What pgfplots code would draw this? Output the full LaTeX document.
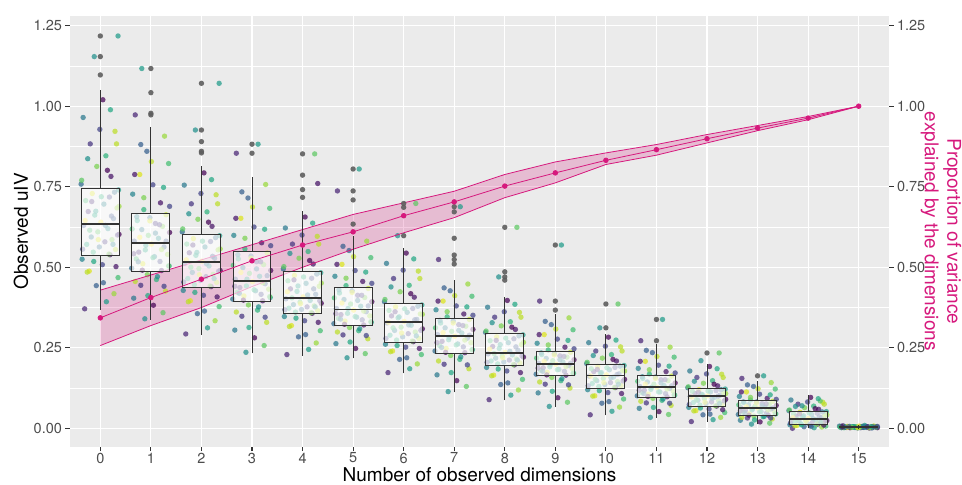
\documentclass[border=0pt]{standalone}
\usepackage{fontspec}
\setmainfont{TeX Gyre Heros}
\usepackage{pgfplots}
\pgfplotsset{compat=1.18}
\usepgfplotslibrary{fillbetween}

\definecolor{panel}{HTML}{EBEBEB}
\definecolor{tickc}{HTML}{333333}
\definecolor{labc}{HTML}{4D4D4D}
\definecolor{pinkc}{HTML}{D6197D}
\definecolor{outc}{HTML}{5E5E5E}

\pgfplotsset{
  gg/.style={
    at={(70pt,38.3pt)}, anchor=south west, scale only axis,
    width=819pt, height=430.7pt,
    xmin=-0.6, xmax=15.6, ymin=-0.057, ymax=1.28,
    ytick={0,0.25,0.5,0.75,1,1.25},
    tick align=outside, major tick length=4.5pt, minor tick length=0pt,
    tick style={draw=tickc, line width=1.1pt},
    tick label style={font=\fontsize{14.5}{16}\selectfont, text=labc},
    /pgf/number format/assume math mode=true,
    y tick label style={/pgf/number format/fixed, /pgf/number format/fixed zerofill, /pgf/number format/precision=2},
  },
  jit/.style={scatter, only marks, mark=*, mark size=2.7pt,
    colormap/viridis, point meta=explicit,
    point meta min=0, point meta max=1,
    scatter/use mapped color={fill=mapped color, draw opacity=0},
    mark options={fill opacity=0.72}},
  bx/.style={draw=tickc, fill=white, fill opacity=0.66, line width=1pt},
}

\begin{document}
\begin{tikzpicture}

\begin{axis}[gg,
  clip mode=individual,
  axis background/.style={fill=panel},
  axis line style={draw=none},
  xtick={0,1,...,15}, xtick pos=bottom, ytick pos=left,
  x tick label style={yshift=2pt},
  minor ytick={0.125,0.375,0.625,0.875,1.125},
  xmajorgrids, ymajorgrids, yminorgrids,
  major grid style={white, line width=1.1pt},
  minor grid style={white, line width=0.55pt},
  unbounded coords=jump,
  xlabel={Number of observed dimensions},
  xlabel style={font=\fontsize{19}{22}\selectfont, at={(axis description cs:0.5,0)}, anchor=base, yshift=-35.3pt},
  ylabel={Observed uIV},
  ylabel style={font=\fontsize{19}{22}\selectfont, at={(axis description cs:-0.0598,0.5)}, anchor=center},
]

% jittered observations, first set
\addplot[jit] table[x=x, y=y, meta=c] {
x y c
-0.31 .371 0.1
0.12 .393 0.55
0.27 .418 0.85
-0.08 .443 0.3
0.35 .468 0.7
-0.22 .488 0.95
0.04 .508 0.2
-0.36 .525 0.45
0.19 .539 0.05
-0.14 .547 0.65
0.30 .555 0.9
-0.02 .563 0.35
-0.27 .571 0.6
0.09 .579 0.15
0.23 .586 0.8
-0.18 .594 0.4
0.37 .602 0.0
-0.05 .610 0.75
0.15 .620 0.5
-0.33 .630 0.25
0.01 .640 1.0
0.26 .651 0.3
-0.11 .662 0.6
-0.24 .673 0.1
0.33 .684 0.85
0.07 .696 0.45
-0.29 .707 0.7
0.18 .718 0.2
-0.16 .729 0.95
0.36 .740 0.55
-0.38 .758 0.35
0.21 .782 0.05
-0.07 .813 0.8
0.11 .846 0.65
-0.20 .883 0.15
0.29 .922 0.9
-0.34 .965 0.4
0.05 1.020 0.0
0.35 1.218 0.55
-0.12 1.154 0.5
0.88 .340 0.5
1.24 .359 0.75
1.05 .382 0.0
0.66 .404 0.4
1.29 .426 0.9
0.80 .444 0.15
1.11 .462 0.65
0.93 .477 0.8
1.21 .490 0.05
0.62 .497 0.35
1.36 .504 0.55
0.84 .511 0.95
1.18 .518 0.2
0.71 .526 0.7
1.07 .533 0.45
1.33 .540 0.85
0.76 .547 0.1
0.89 .554 0.6
1.26 .563 0.3
1.01 .572 1.0
0.67 .581 0.25
1.15 .590 0.5
0.95 .599 0.75
1.37 .608 0.0
0.82 .617 0.4
1.23 .627 0.8
1.09 .636 0.15
0.73 .645 0.6
0.98 .654 0.35
1.30 .663 0.9
0.86 .679 0.65
1.19 .700 0.05
0.64 .727 0.45
1.04 .756 0.2
0.78 .788 0.95
1.35 .822 0.7
0.92 .860 0.3
1.27 .907 0.85
0.82 1.117 0.55
0.69 .973 0.1
1.69 .293 0.1
2.12 .312 0.55
2.27 .334 0.85
1.92 .356 0.3
2.35 .378 0.7
1.78 .396 0.95
2.04 .413 0.2
1.64 .428 0.45
2.19 .440 0.05
1.86 .446 0.65
2.30 .453 0.9
1.98 .459 0.35
1.73 .465 0.6
2.09 .471 0.15
2.23 .478 0.8
1.82 .484 0.4
2.37 .490 0.0
1.95 .496 0.75
2.15 .504 0.5
1.67 .512 0.25
2.01 .519 1.0
2.26 .528 0.3
1.89 .537 0.6
1.76 .545 0.1
2.33 .554 0.85
2.07 .563 0.45
1.71 .572 0.7
2.18 .580 0.2
1.84 .589 0.95
2.36 .598 0.55
1.62 .610 0.35
2.21 .627 0.05
1.93 .649 0.8
2.11 .672 0.65
1.80 .697 0.15
2.29 .725 0.9
1.66 .755 0.4
2.05 .793 0.0
2.35 1.071 0.55
1.88 .926 0.5
2.88 .236 0.5
3.24 .257 0.75
3.05 .281 0.0
2.66 .305 0.4
3.29 .329 0.9
2.80 .348 0.15
3.11 .367 0.65
2.93 .383 0.8
3.21 .396 0.05
2.62 .401 0.35
3.36 .406 0.55
2.84 .411 0.95
3.18 .416 0.2
2.71 .422 0.7
3.07 .427 0.45
3.33 .432 0.85
2.76 .437 0.1
2.89 .442 0.6
3.26 .449 0.3
3.01 .455 1.0
2.67 .463 0.25
3.15 .472 0.5
2.95 .481 0.75
3.37 .490 0.0
2.82 .499 0.4
3.23 .508 0.8
3.09 .517 0.15
2.73 .526 0.6
2.98 .535 0.35
3.30 .544 0.9
2.86 .557 0.65
3.19 .576 0.05
2.64 .599 0.45
3.04 .625 0.2
2.78 .652 0.95
3.35 .683 0.7
2.92 .715 0.3
3.27 .757 0.85
3.12 .882 0.55
2.69 .854 0.1
3.69 .229 0.1
4.12 .245 0.55
4.27 .265 0.85
3.92 .284 0.3
4.35 .303 0.7
3.78 .319 0.95
4.04 .334 0.2
3.64 .347 0.45
4.19 .357 0.05
3.86 .361 0.65
4.30 .365 0.9
3.98 .369 0.35
3.73 .373 0.6
4.09 .377 0.15
4.23 .380 0.8
3.82 .384 0.4
4.37 .388 0.0
3.95 .392 0.75
4.15 .397 0.5
3.67 .402 0.25
4.01 .408 1.0
4.26 .416 0.3
3.89 .425 0.6
3.76 .433 0.1
4.33 .441 0.85
4.07 .450 0.45
3.71 .458 0.7
4.18 .466 0.2
3.84 .475 0.95
4.36 .483 0.55
3.62 .495 0.35
4.21 .510 0.05
3.93 .528 0.8
4.11 .549 0.65
3.80 .572 0.15
4.29 .596 0.9
3.66 .622 0.4
4.05 .656 0.0
4.24 .852 0.75
4.30 .760 0.05
4.88 .219 0.5
5.24 .232 0.75
5.05 .248 0.0
4.66 .263 0.4
5.29 .278 0.9
4.80 .290 0.15
5.11 .303 0.65
4.93 .313 0.8
5.21 .321 0.05
4.62 .325 0.35
5.36 .329 0.55
4.84 .333 0.95
5.18 .337 0.2
4.71 .341 0.7
5.07 .345 0.45
5.33 .349 0.85
4.76 .353 0.1
4.89 .357 0.6
5.26 .362 0.3
5.01 .367 1.0
4.67 .372 0.25
5.15 .379 0.5
4.95 .386 0.75
5.37 .393 0.0
4.82 .400 0.4
5.23 .406 0.8
5.09 .413 0.15
4.73 .420 0.6
4.98 .427 0.35
5.30 .434 0.9
4.86 .443 0.65
5.19 .456 0.05
4.64 .472 0.45
5.04 .490 0.2
4.78 .509 0.95
5.35 .530 0.7
4.92 .552 0.3
5.27 .581 0.85
5.12 .805 0.55
4.69 .737 0.1
5.69 .173 0.1
6.12 .185 0.55
6.27 .200 0.85
5.92 .214 0.3
6.35 .229 0.7
5.78 .240 0.95
6.04 .252 0.2
5.64 .261 0.45
6.19 .269 0.05
5.86 .274 0.65
6.30 .279 0.9
5.98 .284 0.35
5.73 .289 0.6
6.09 .294 0.15
6.23 .299 0.8
5.82 .304 0.4
6.37 .309 0.0
5.95 .314 0.75
6.15 .320 0.5
5.67 .327 0.25
6.01 .332 1.0
6.26 .338 0.3
5.89 .343 0.6
5.76 .349 0.1
6.33 .355 0.85
6.07 .360 0.45
5.71 .366 0.7
6.18 .372 0.2
5.84 .377 0.95
6.36 .383 0.55
5.62 .393 0.35
6.21 .407 0.05
5.93 .424 0.8
6.11 .444 0.65
5.80 .465 0.15
6.29 .488 0.9
5.66 .512 0.4
6.05 .544 0.0
6.24 .698 0.75
5.88 .598 0.5
6.88 .114 0.5
7.24 .130 0.75
7.05 .148 0.0
6.66 .166 0.4
7.29 .185 0.9
6.80 .199 0.15
7.11 .214 0.65
6.93 .226 0.8
7.21 .235 0.05
6.62 .240 0.35
7.36 .244 0.55
6.84 .248 0.95
7.18 .253 0.2
6.71 .257 0.7
7.07 .262 0.45
7.33 .266 0.85
6.76 .270 0.1
6.89 .275 0.6
7.26 .280 0.3
7.01 .286 1.0
6.67 .291 0.25
7.15 .296 0.5
6.95 .301 0.75
7.37 .307 0.0
6.82 .312 0.4
7.23 .317 0.8
7.09 .322 0.15
6.73 .327 0.6
6.98 .333 0.35
7.30 .338 0.9
6.86 .346 0.65
7.19 .355 0.05
6.64 .368 0.45
7.04 .380 0.2
6.78 .395 0.95
7.35 .410 0.7
6.92 .427 0.3
7.27 .448 0.85
7.12 .688 0.55
6.69 .524 0.1
7.69 .089 0.1
8.12 .103 0.55
8.27 .119 0.85
7.92 .136 0.3
8.35 .152 0.7
7.78 .165 0.95
8.04 .178 0.2
7.64 .189 0.45
8.19 .197 0.05
7.86 .200 0.65
8.30 .203 0.9
7.98 .206 0.35
7.73 .209 0.6
8.09 .212 0.15
8.23 .215 0.8
7.82 .218 0.4
8.37 .221 0.0
7.95 .224 0.75
8.15 .228 0.5
7.67 .231 0.25
8.01 .236 1.0
8.26 .242 0.3
7.89 .248 0.6
7.76 .254 0.1
8.33 .260 0.85
8.07 .266 0.45
7.71 .272 0.7
8.18 .278 0.2
7.84 .284 0.95
8.36 .290 0.55
7.62 .298 0.35
8.21 .307 0.05
7.93 .318 0.8
8.11 .331 0.65
7.80 .345 0.15
8.29 .360 0.9
7.66 .376 0.4
8.05 .397 0.0
8.24 .624 0.75
7.88 .470 0.5
8.88 .068 0.5
9.24 .081 0.75
9.05 .095 0.0
8.66 .110 0.4
9.29 .125 0.9
8.80 .137 0.15
9.11 .148 0.65
8.93 .158 0.8
9.21 .165 0.05
8.62 .168 0.35
9.36 .171 0.55
8.84 .174 0.95
9.18 .177 0.2
8.71 .180 0.7
9.07 .183 0.45
9.33 .186 0.85
8.76 .188 0.1
8.89 .191 0.6
9.26 .195 0.3
9.01 .199 1.0
8.67 .202 0.25
9.15 .206 0.5
8.95 .210 0.75
9.37 .213 0.0
8.82 .217 0.4
9.23 .221 0.8
9.09 .225 0.15
8.73 .229 0.6
8.98 .232 0.35
9.30 .236 0.9
8.86 .243 0.65
9.19 .252 0.05
8.64 .264 0.45
9.04 .277 0.2
8.78 .291 0.95
9.35 .306 0.7
8.92 .322 0.3
9.27 .343 0.85
9.12 .569 0.55
8.69 .395 0.1
9.69 .042 0.1
10.12 .053 0.55
10.27 .066 0.85
9.92 .078 0.3
10.35 .091 0.7
9.78 .101 0.95
10.04 .111 0.2
9.64 .120 0.45
10.19 .127 0.05
9.86 .130 0.65
10.30 .133 0.9
9.98 .136 0.35
9.73 .139 0.6
10.09 .142 0.15
10.23 .145 0.8
9.82 .148 0.4
10.37 .152 0.0
9.95 .155 0.75
10.15 .159 0.5
9.67 .162 0.25
10.01 .166 1.0
10.26 .169 0.3
9.89 .172 0.6
9.76 .176 0.1
10.33 .179 0.85
10.07 .182 0.45
9.71 .185 0.7
10.18 .189 0.2
9.84 .192 0.95
10.36 .195 0.55
9.62 .201 0.35
10.21 .209 0.05
9.93 .218 0.8
10.11 .229 0.65
9.80 .240 0.15
10.29 .253 0.9
9.66 .266 0.4
10.05 .283 0.0
10.24 .386 0.75
9.88 .312 0.5
10.88 .034 0.5
11.24 .043 0.75
11.05 .052 0.0
10.66 .062 0.4
11.29 .071 0.9
10.80 .079 0.15
11.11 .087 0.65
10.93 .093 0.8
11.21 .098 0.05
10.62 .101 0.35
11.36 .103 0.55
10.84 .106 0.95
11.18 .108 0.2
10.71 .111 0.7
11.07 .113 0.45
11.33 .116 0.85
10.76 .118 0.1
10.89 .121 0.6
11.26 .124 0.3
11.01 .127 1.0
10.67 .130 0.25
11.15 .133 0.5
10.95 .137 0.75
11.37 .141 0.0
10.82 .144 0.4
11.23 .148 0.8
11.09 .151 0.15
10.73 .155 0.6
10.98 .159 0.35
11.30 .162 0.9
10.86 .168 0.65
11.19 .176 0.05
10.64 .186 0.45
11.04 .196 0.2
10.78 .208 0.95
11.35 .221 0.7
10.92 .235 0.3
11.27 .252 0.85
11.12 .338 0.55
10.69 .272 0.1
11.69 .021 0.1
12.12 .027 0.55
12.27 .034 0.85
11.92 .042 0.3
12.35 .049 0.7
11.78 .055 0.95
12.04 .060 0.2
11.64 .065 0.45
12.19 .069 0.05
11.86 .072 0.65
12.30 .074 0.9
11.98 .077 0.35
11.73 .080 0.6
12.09 .082 0.15
12.23 .085 0.8
11.82 .087 0.4
12.37 .090 0.0
11.95 .092 0.75
12.15 .096 0.5
11.67 .099 0.25
12.01 .101 1.0
12.26 .103 0.3
11.89 .106 0.6
11.76 .108 0.1
12.33 .110 0.85
12.07 .113 0.45
11.71 .115 0.7
12.18 .117 0.2
11.84 .120 0.95
12.36 .122 0.55
11.62 .126 0.35
12.21 .132 0.05
11.93 .140 0.8
12.11 .148 0.65
11.80 .158 0.15
12.29 .168 0.9
11.66 .178 0.4
12.05 .192 0.0
12.24 .234 0.75
11.88 .210 0.5
12.88 .013 0.5
13.24 .016 0.75
13.05 .020 0.0
12.66 .025 0.4
13.29 .029 0.9
12.80 .032 0.15
13.11 .036 0.65
12.93 .038 0.8
13.21 .041 0.05
12.62 .043 0.35
13.36 .045 0.55
12.84 .046 0.95
13.18 .048 0.2
12.71 .050 0.7
13.07 .052 0.45
13.33 .054 0.85
12.76 .056 0.1
12.89 .057 0.6
13.26 .060 0.3
13.01 .062 1.0
12.67 .064 0.25
13.15 .066 0.5
12.95 .069 0.75
13.37 .071 0.0
12.82 .073 0.4
13.23 .075 0.8
13.09 .077 0.15
12.73 .080 0.6
12.98 .082 0.35
13.30 .084 0.9
12.86 .088 0.65
13.19 .093 0.05
12.64 .099 0.45
13.04 .106 0.2
12.78 .113 0.95
13.35 .122 0.7
12.92 .130 0.3
13.27 .142 0.85
13.12 .163 0.55
12.69 .155 0.1
13.69 .000 0.1
14.12 .002 0.55
14.27 .004 0.85
13.92 .005 0.3
14.35 .007 0.7
13.78 .009 0.95
14.04 .010 0.2
13.64 .011 0.45
14.19 .013 0.05
13.86 .014 0.65
14.30 .016 0.9
13.98 .017 0.35
13.73 .018 0.6
14.09 .020 0.15
14.23 .021 0.8
13.82 .023 0.4
14.37 .024 0.0
13.95 .026 0.75
14.15 .027 0.5
13.67 .029 0.25
14.01 .031 1.0
14.26 .033 0.3
13.89 .036 0.6
13.76 .038 0.1
14.33 .040 0.85
14.07 .043 0.45
13.71 .045 0.7
14.18 .047 0.2
13.84 .050 0.95
14.36 .052 0.55
13.62 .055 0.35
14.21 .059 0.05
13.93 .064 0.8
14.11 .069 0.65
13.80 .075 0.15
14.29 .081 0.9
13.66 .088 0.4
14.05 .096 0.0
14.24 .085 0.75
13.88 .070 0.5
14.88 .004 0.5
15.24 .003 0.75
15.05 .005 0.0
14.66 .002 0.4
15.29 .006 0.9
14.80 .004 0.15
15.11 .003 0.65
14.93 .005 0.8
15.21 .001 0.05
14.62 .007 0.35
15.36 .004 0.55
14.84 .003 0.95
15.18 .005 0.2
14.71 .002 0.7
15.07 .006 0.45
15.33 .004 0.85
14.76 .003 0.1
14.89 .005 0.6
15.26 .001 0.3
15.01 .007 1.0
14.67 .004 0.25
15.15 .003 0.5
14.95 .005 0.75
15.37 .002 0.0
14.82 .006 0.4
15.23 .004 0.8
15.09 .003 0.15
14.73 .005 0.6
14.98 .001 0.35
15.30 .007 0.9
14.86 .004 0.65
15.19 .003 0.05
14.64 .005 0.45
15.04 .002 0.2
14.78 .006 0.95
15.35 .004 0.7
14.92 .003 0.3
15.27 .005 0.85
15.12 .009 0.55
14.69 .008 0.1
};

% jittered observations, second set
\addplot[jit] table[x=x, y=y, meta=c] {
x y c
0.06 .452 0.3
-0.26 .485 0.9
0.31 .502 0.05
-0.13 .518 0.6
0.17 .541 0.8
-0.35 .556 0.2
0.25 .571 0.45
-0.04 .586 0.95
0.34 .600 0.15
-0.21 .615 0.7
0.10 .630 0.4
-0.30 .645 1.0
0.22 .659 0.25
-0.09 .674 0.55
0.37 .689 0.85
-0.17 .704 0.1
0.02 .719 0.65
0.28 .733 0.35
-0.37 .770 0.75
0.14 .801 0.0
-0.25 .837 0.5
0.32 .883 0.9
-0.01 .928 0.2
0.20 .989 0.6
0.94 .412 0.6
1.26 .441 0.2
0.69 .456 0.9
1.13 .471 0.5
0.83 .491 0.0
1.35 .504 0.75
0.75 .517 0.35
1.04 .530 0.65
0.66 .542 0.1
1.21 .555 0.85
0.90 .568 0.55
1.30 .581 0.25
0.78 .593 1.0
1.09 .606 0.4
0.63 .619 0.7
1.17 .632 0.15
0.98 .644 0.95
0.72 .657 0.45
1.37 .689 0.2
0.86 .716 0.8
1.25 .748 0.6
0.68 .788 0.05
1.01 .828 0.9
0.80 .881 0.3
2.06 .364 0.3
1.74 .393 0.9
2.31 .408 0.05
1.87 .422 0.6
2.17 .442 0.8
1.65 .454 0.2
2.25 .465 0.45
1.96 .477 0.95
2.34 .488 0.15
1.79 .500 0.7
2.10 .511 0.4
1.70 .523 1.0
2.22 .534 0.25
1.91 .546 0.55
2.37 .557 0.85
1.83 .569 0.1
2.02 .581 0.65
2.28 .592 0.35
1.63 .619 0.75
2.14 .640 0.0
1.75 .666 0.5
2.32 .697 0.9
1.99 .729 0.2
2.20 .772 0.6
2.94 .313 0.6
3.26 .345 0.2
2.69 .361 0.9
3.13 .377 0.5
2.83 .398 0.0
3.35 .409 0.75
2.75 .419 0.35
3.04 .430 0.65
2.66 .441 0.1
3.21 .452 0.85
2.90 .463 0.55
3.30 .474 0.25
2.78 .484 1.0
3.09 .495 0.4
2.63 .506 0.7
3.17 .517 0.15
2.98 .528 0.95
2.72 .539 0.45
3.37 .567 0.2
2.86 .590 0.8
3.25 .618 0.6
2.68 .652 0.05
3.01 .687 0.9
2.80 .734 0.3
4.06 .291 0.3
3.74 .316 0.9
4.31 .329 0.05
3.87 .342 0.6
4.17 .359 0.8
3.65 .368 0.2
4.25 .377 0.45
3.96 .387 0.95
4.34 .396 0.15
3.79 .405 0.7
4.10 .414 0.4
3.70 .424 1.0
4.22 .433 0.25
3.91 .442 0.55
4.37 .451 0.85
3.83 .461 0.1
4.02 .470 0.65
4.28 .479 0.35
3.63 .502 0.75
4.14 .521 0.0
3.75 .543 0.5
4.32 .572 0.9
3.99 .600 0.2
4.20 .637 0.6
4.94 .268 0.6
5.26 .288 0.2
4.69 .299 0.9
5.13 .309 0.5
4.83 .323 0.0
5.35 .331 0.75
4.75 .339 0.35
5.04 .347 0.65
4.66 .356 0.1
5.21 .364 0.85
4.90 .372 0.55
5.30 .380 0.25
4.78 .389 1.0
5.09 .397 0.4
4.63 .405 0.7
5.17 .413 0.15
4.98 .422 0.95
4.72 .430 0.45
5.37 .450 0.2
4.86 .466 0.8
5.25 .485 0.6
4.68 .509 0.05
5.01 .533 0.9
4.80 .565 0.3
6.06 .219 0.3
5.74 .238 0.9
6.31 .248 0.05
5.87 .257 0.6
6.17 .271 0.8
5.65 .279 0.2
6.25 .287 0.45
5.96 .296 0.95
6.34 .304 0.15
5.79 .312 0.7
6.10 .321 0.4
5.70 .329 1.0
6.22 .337 0.25
5.91 .346 0.55
6.37 .354 0.85
5.83 .362 0.1
6.02 .371 0.65
6.28 .379 0.35
5.63 .400 0.75
6.14 .418 0.0
5.75 .439 0.5
6.32 .465 0.9
5.99 .491 0.2
6.20 .526 0.6
6.94 .173 0.6
7.26 .197 0.2
6.69 .209 0.9
7.13 .222 0.5
6.83 .236 0.0
7.35 .244 0.75
6.75 .251 0.35
7.04 .259 0.65
6.66 .266 0.1
7.21 .274 0.85
6.90 .282 0.55
7.30 .289 0.25
6.78 .297 1.0
7.09 .304 0.4
6.63 .312 0.7
7.17 .319 0.15
6.98 .327 0.95
6.72 .335 0.45
7.37 .351 0.2
6.86 .362 0.8
7.25 .377 0.6
6.68 .395 0.05
7.01 .412 0.9
6.80 .436 0.3
8.06 .141 0.3
7.74 .163 0.9
8.31 .173 0.05
7.87 .184 0.6
8.17 .198 0.8
7.65 .205 0.2
8.25 .212 0.45
7.96 .219 0.95
8.34 .225 0.15
7.79 .232 0.7
8.10 .239 0.4
7.70 .246 1.0
8.22 .253 0.25
7.91 .260 0.55
8.37 .267 0.85
7.83 .273 0.1
8.02 .280 0.65
8.28 .287 0.35
7.63 .302 0.75
8.14 .314 0.0
7.75 .328 0.5
8.32 .345 0.9
7.99 .362 0.2
8.20 .385 0.6
8.94 .115 0.6
9.26 .135 0.2
8.69 .144 0.9
9.13 .154 0.5
8.83 .166 0.0
9.35 .171 0.75
8.75 .177 0.35
9.04 .182 0.65
8.66 .187 0.1
9.21 .192 0.85
8.90 .197 0.55
9.30 .202 0.25
8.78 .208 1.0
9.09 .213 0.4
8.63 .218 0.7
9.17 .223 0.15
8.98 .228 0.95
8.72 .234 0.45
9.37 .247 0.2
8.86 .259 0.8
9.25 .273 0.6
8.68 .291 0.05
9.01 .308 0.9
8.80 .332 0.3
10.06 .083 0.3
9.74 .100 0.9
10.31 .108 0.05
9.87 .117 0.6
10.17 .127 0.8
9.65 .132 0.2
10.25 .137 0.45
9.96 .142 0.95
10.34 .147 0.15
9.79 .152 0.7
10.10 .157 0.4
9.70 .162 1.0
10.22 .167 0.25
9.91 .173 0.55
10.37 .178 0.85
9.83 .183 0.1
10.02 .188 0.65
10.28 .193 0.35
9.63 .205 0.75
10.14 .214 0.0
9.75 .226 0.5
10.32 .240 0.9
9.99 .255 0.2
10.20 .274 0.6
10.94 .065 0.6
11.26 .078 0.2
10.69 .084 0.9
11.13 .091 0.5
10.83 .099 0.0
11.35 .104 0.75
10.75 .108 0.35
11.04 .113 0.65
10.66 .118 0.1
11.21 .122 0.85
10.90 .127 0.55
11.30 .132 0.25
10.78 .137 1.0
11.09 .141 0.4
10.63 .146 0.7
11.17 .151 0.15
10.98 .155 0.95
10.72 .160 0.45
11.37 .172 0.2
10.86 .182 0.8
11.25 .193 0.6
10.68 .208 0.05
11.01 .223 0.9
10.80 .242 0.3
12.06 .044 0.3
11.74 .054 0.9
12.31 .058 0.05
11.87 .063 0.6
12.17 .070 0.8
11.65 .074 0.2
12.25 .077 0.45
11.96 .081 0.95
12.34 .085 0.15
11.79 .089 0.7
12.10 .093 0.4
11.70 .097 1.0
12.22 .100 0.25
11.91 .104 0.55
12.37 .108 0.85
11.83 .112 0.1
12.02 .116 0.65
12.28 .120 0.35
11.63 .129 0.75
12.14 .137 0.0
11.75 .146 0.5
12.32 .158 0.9
11.99 .169 0.2
12.20 .185 0.6
12.94 .026 0.6
13.26 .032 0.2
12.69 .034 0.9
13.13 .037 0.5
12.83 .041 0.0
13.35 .045 0.75
12.75 .048 0.35
13.04 .051 0.65
12.66 .054 0.1
13.21 .057 0.85
12.90 .060 0.55
13.30 .063 0.25
12.78 .067 1.0
13.09 .070 0.4
12.63 .073 0.7
13.17 .076 0.15
12.98 .079 0.95
12.72 .082 0.45
13.37 .090 0.2
12.86 .096 0.8
13.25 .104 0.6
12.68 .113 0.05
13.01 .123 0.9
12.80 .135 0.3
14.06 .006 0.3
13.74 .008 0.9
14.31 .010 0.05
13.87 .011 0.6
14.17 .013 0.8
13.65 .016 0.2
14.25 .019 0.45
13.96 .022 0.95
14.34 .025 0.15
13.79 .028 0.7
14.10 .030 0.4
13.70 .033 1.0
14.22 .036 0.25
13.91 .039 0.55
14.37 .042 0.85
13.83 .045 0.1
14.02 .048 0.65
14.28 .051 0.35
13.63 .057 0.75
14.14 .061 0.0
13.75 .068 0.5
14.32 .075 0.9
13.99 .082 0.2
14.20 .092 0.6
14.94 .003 0.6
15.26 .005 0.2
14.69 .004 0.9
15.13 .006 0.5
14.83 .002 0.0
15.35 .005 0.75
14.75 .003 0.35
15.04 .004 0.65
14.66 .006 0.1
15.21 .002 0.85
14.90 .005 0.55
15.30 .004 0.25
14.78 .003 1.0
15.09 .006 0.4
14.63 .004 0.7
15.17 .005 0.15
14.98 .002 0.95
14.72 .004 0.45
15.37 .006 0.2
14.86 .003 0.8
15.25 .005 0.6
14.68 .004 0.05
15.01 .003 0.9
14.80 .005 0.3
};

% ribbon of the proportion of variance (under the boxes)
\addplot[name path=up, pinkc, line width=0.8pt] coordinates {
(0,0.429) (1,0.476) (2,0.523) (3,0.57) (4,0.617) (5,0.664) (6,0.70) (7,0.736)
(8,0.788) (9,0.827) (10,0.855) (11,0.881) (12,0.912) (13,0.94) (14,0.968) (15,1.0)
};
\addplot[name path=lo, pinkc, line width=0.8pt] coordinates {
(0,0.257) (1,0.319) (2,0.375) (3,0.44) (4,0.50) (5,0.556) (6,0.607) (7,0.654)
(8,0.716) (9,0.762) (10,0.819) (11,0.848) (12,0.886) (13,0.924) (14,0.958) (15,1.0)
};
\addplot[pinkc, fill opacity=0.22, draw=none] fill between[of=up and lo];

% whiskers (lower whisker to Q1, Q3 to upper whisker)
\addplot[tickc, line width=1pt] coordinates {
(0,0.368) (0,0.535) (nan,nan) (0,0.746) (0,1.05) (nan,nan)
(1,0.337) (1,0.486) (nan,nan) (1,0.668) (1,0.934) (nan,nan)
(2,0.29) (2,0.437) (nan,nan) (2,0.602) (2,0.814) (nan,nan)
(3,0.233) (3,0.393) (nan,nan) (3,0.548) (3,0.78) (nan,nan)
(4,0.226) (4,0.355) (nan,nan) (4,0.487) (4,0.675) (nan,nan)
(5,0.217) (5,0.319) (nan,nan) (5,0.437) (5,0.597) (nan,nan)
(6,0.171) (6,0.267) (nan,nan) (6,0.386) (6,0.561) (nan,nan)
(7,0.112) (7,0.233) (nan,nan) (7,0.341) (7,0.46) (nan,nan)
(8,0.087) (8,0.195) (nan,nan) (8,0.293) (8,0.408) (nan,nan)
(9,0.066) (9,0.164) (nan,nan) (9,0.238) (9,0.355) (nan,nan)
(10,0.04) (10,0.125) (nan,nan) (10,0.197) (10,0.293) (nan,nan)
(11,0.033) (11,0.097) (nan,nan) (11,0.164) (11,0.262) (nan,nan)
(12,0.02) (12,0.068) (nan,nan) (12,0.123) (12,0.2) (nan,nan)
(13,0.012) (13,0.04) (nan,nan) (13,0.085) (13,0.148) (nan,nan)
(14,0.0) (14,0.012) (nan,nan) (14,0.053) (14,0.102) (nan,nan)
(15,0.0) (15,0.002) (nan,nan) (15,0.006) (15,0.01)
};

% boxes Q1 to Q3
\addplot[bx] coordinates {(-0.375,0.535) (0.375,0.535) (0.375,0.746) (-0.375,0.746)} -- cycle;
\addplot[bx] coordinates {(0.625,0.486) (1.375,0.486) (1.375,0.668) (0.625,0.668)} -- cycle;
\addplot[bx] coordinates {(1.625,0.437) (2.375,0.437) (2.375,0.602) (1.625,0.602)} -- cycle;
\addplot[bx] coordinates {(2.625,0.393) (3.375,0.393) (3.375,0.548) (2.625,0.548)} -- cycle;
\addplot[bx] coordinates {(3.625,0.355) (4.375,0.355) (4.375,0.487) (3.625,0.487)} -- cycle;
\addplot[bx] coordinates {(4.625,0.319) (5.375,0.319) (5.375,0.437) (4.625,0.437)} -- cycle;
\addplot[bx] coordinates {(5.625,0.267) (6.375,0.267) (6.375,0.386) (5.625,0.386)} -- cycle;
\addplot[bx] coordinates {(6.625,0.233) (7.375,0.233) (7.375,0.341) (6.625,0.341)} -- cycle;
\addplot[bx] coordinates {(7.625,0.195) (8.375,0.195) (8.375,0.293) (7.625,0.293)} -- cycle;
\addplot[bx] coordinates {(8.625,0.164) (9.375,0.164) (9.375,0.238) (8.625,0.238)} -- cycle;
\addplot[bx] coordinates {(9.625,0.125) (10.375,0.125) (10.375,0.197) (9.625,0.197)} -- cycle;
\addplot[bx] coordinates {(10.625,0.097) (11.375,0.097) (11.375,0.164) (10.625,0.164)} -- cycle;
\addplot[bx] coordinates {(11.625,0.068) (12.375,0.068) (12.375,0.123) (11.625,0.123)} -- cycle;
\addplot[bx] coordinates {(12.625,0.04) (13.375,0.04) (13.375,0.085) (12.625,0.085)} -- cycle;
\addplot[bx] coordinates {(13.625,0.012) (14.375,0.012) (14.375,0.053) (13.625,0.053)} -- cycle;
\addplot[bx] coordinates {(14.625,0.002) (15.375,0.002) (15.375,0.006) (14.625,0.006)} -- cycle;

% medians
\addplot[tickc, line width=1.9pt] coordinates {
(-0.375,0.634) (0.375,0.634) (nan,nan)
(0.625,0.576) (1.375,0.576) (nan,nan)
(1.625,0.515) (2.375,0.515) (nan,nan)
(2.625,0.458) (3.375,0.458) (nan,nan)
(3.625,0.404) (4.375,0.404) (nan,nan)
(4.625,0.369) (5.375,0.369) (nan,nan)
(5.625,0.329) (6.375,0.329) (nan,nan)
(6.625,0.288) (7.375,0.288) (nan,nan)
(7.625,0.233) (8.375,0.233) (nan,nan)
(8.625,0.2) (9.375,0.2) (nan,nan)
(9.625,0.164) (10.375,0.164) (nan,nan)
(10.625,0.128) (11.375,0.128) (nan,nan)
(11.625,0.1) (12.375,0.1) (nan,nan)
(12.625,0.063) (13.375,0.063) (nan,nan)
(13.625,0.03) (14.375,0.03) (nan,nan)
(14.625,0.004) (15.375,0.004)
};

% outliers
\addplot[only marks, mark=*, mark size=2.7pt, outc, mark options={draw opacity=0, fill opacity=0.9}] coordinates {
(0,1.218) (0,1.154) (0,1.097)
(1,1.117) (1,1.042) (1,0.978) (1,0.973)
(2,1.071) (2,0.926) (2,0.89) (2,0.86) (2,0.855)
(3,0.882) (3,0.854)
(4,0.852) (4,0.786) (4,0.741) (4,0.717)
(5,0.805) (5,0.737) (5,0.709) (5,0.634)
(6,0.698) (6,0.686) (6,0.598)
(7,0.688) (7,0.672) (7,0.59) (7,0.538) (7,0.524) (7,0.51)
(8,0.624) (8,0.486) (8,0.47) (8,0.46)
(9,0.569) (9,0.395) (9,0.367)
(10,0.386) (10,0.312)
(11,0.338) (11,0.272)
(12,0.234)
(13,0.163)
};

% proportion of variance, central line
\addplot[pinkc, line width=0.8pt, mark=*, mark size=2.3pt] coordinates {
(0,0.343) (1,0.406) (2,0.463) (3,0.52) (4,0.569) (5,0.61) (6,0.66) (7,0.703)
(8,0.752) (9,0.793) (10,0.832) (11,0.865) (12,0.899) (13,0.932) (14,0.963) (15,1.0)
};
\end{axis}

% secondary axis on the right
\begin{axis}[gg,
  hide x axis,
  axis y line*=right,
  y axis line style={draw=none},
  ytick pos=right,
  ylabel={Proportion of variance\\explained by the dimensions},
  ylabel style={font=\fontsize{19}{22.5}\selectfont, text=pinkc, align=center, rotate=180,
    at={(axis description cs:1.0635,0.5)}, anchor=center},
]
\addplot[draw=none] coordinates {(0,0)};
\end{axis}

\pgfresetboundingbox
\path[use as bounding box] (0,0) rectangle (962pt,485pt);
\end{tikzpicture}
\end{document}
